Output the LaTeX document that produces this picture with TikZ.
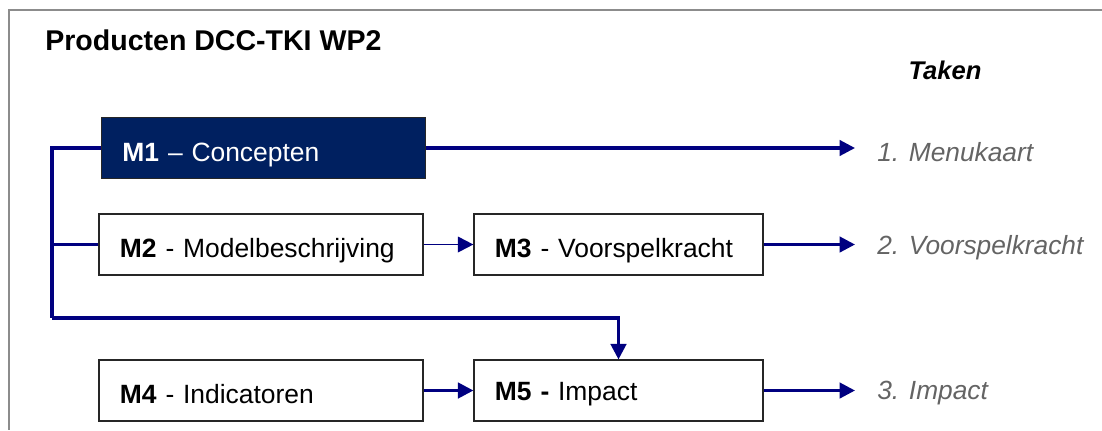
\documentclass[tikz,border=0pt]{standalone}
\usepackage{fontspec}
\setmainfont{Liberation Sans}
\usepackage{tikz}
\usetikzlibrary{arrows.meta}
\definecolor{darknavy}{RGB}{0,32,96}
\definecolor{linknavy}{RGB}{0,0,128}
\definecolor{taskgray}{RGB}{100,100,100}
\definecolor{framegray}{RGB}{140,140,140}
\tikzset{
	mbox/.style={draw=black!85, line width=0.8pt, minimum height=1.525cm, inner xsep=0.525cm, text width=7.05cm, text height=18.5pt, text depth=0pt, align=left, font=\fontsize{18.8}{22}\selectfont},
	mboxs/.style={mbox, text width=6.175cm},
	task/.style={anchor=west, inner xsep=0.55cm, text=taskgray, font=\fontsize{18.7}{22}\selectfont\itshape},
	link/.style={linknavy, line width=2.2pt},
	thinlink/.style={linknavy, line width=1.4pt},
	tip/.style={-{Triangle[length=11pt,width=11pt]}}
}
\begin{document}
\begin{tikzpicture}[x=0.025cm,y=-0.025cm]
	\useasboundingbox (0,0) rectangle (1102,430);
	\draw[framegray, line width=1.4pt] (1102,10) -- (9,10) -- (9,430);
	% titles
	\node[anchor=base west, inner sep=0pt, font=\fontsize{20.3}{24}\selectfont\bfseries] (title) at (45,50) {Producten DCC-TKI WP2};
	\node[font=\fontsize{18.2}{22}\selectfont\bfseries\itshape] (taken) at (945,70) {Taken};
	% boxes
	\node[mbox, fill=darknavy, text=white] (m1) at (263.5,148) {\textbf{M1} -- Concepten};
	\node[mbox] (m2) at (261,244.5) {\textbf{M2} - Modelbeschrijving};
	\node[mboxs] (m3) at (618.5,244.5) {\textbf{M3} - Voorspelkracht};
	\node[mbox] (m4) at (261,390.5) {\textbf{M4} - Indicatoren};
	\node[mboxs, text height=13.5pt] (m5) at (618.5,390.5) {\textbf{M5 -} Impact};
	% taken
	\node[task] (t1) at (855,152) {1. Menukaart};
	\node[task] (t2) at (855,248) {2. Voorspelkracht};
	\node[task] (t3) at (855,393) {3. Impact};
	% bracket
	\coordinate (jt) at (52,148);
	\coordinate (jb) at (52,318);
	\draw[link, line join=miter] (m1.west) -- (jt) -- (jb);
	\draw[link] (m2.west) -- (m2.west -| jt);
	\draw[link, tip] (jb) -| (m5.north);
	% arrows
	\draw[thinlink, tip] (m2.east) -- (m3.west);
	\draw[link, tip] (m4.east) -- (m5.west);
	\draw[link, tip] (m1.east) -- (m1.east -| t1.west);
	\draw[link, tip] (m3.east) -- (m3.east -| t2.west);
	\draw[link, tip] (m5.east) -- (m5.east -| t3.west);
\end{tikzpicture}
\end{document}
